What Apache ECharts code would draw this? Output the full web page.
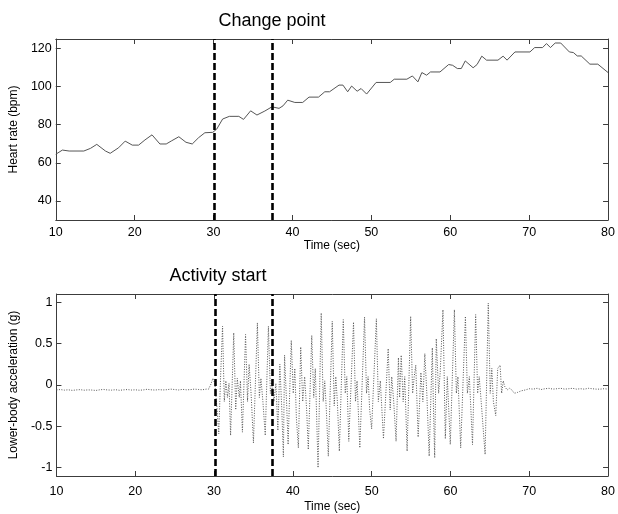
<!DOCTYPE html>
<html>
<head>
<meta charset="utf-8">
<script src="https://cdn.jsdelivr.net/npm/echarts@6/dist/echarts.min.js"></script>
<style>html,body{margin:0;padding:0;background:#fff;}#chart{width:618px;height:514px;}</style>
</head>
<body>
<div id="chart"></div>
<script>
// ---- Data ----
const timeTicks = [10, 20, 30, 40, 50, 60, 70, 80];
const hrTicks = [40, 60, 80, 100, 120];
const accTicks = [-1, -0.5, 0, 0.5, 1];
const changePoints = [30.15, 37.45];

const hrTime = [
  10.0, 10.84, 11.7, 13.56, 14.4, 15.2, 16.3, 16.9, 17.96, 18.8,
  19.7, 20.5, 21.3, 22.2, 23.2, 24.0, 24.7, 25.6, 26.5, 27.3,
  28.1, 28.9, 29.9, 30.4, 31.15, 32.0, 33.2, 33.8, 34.7, 35.5,
  36.5, 37.4, 38.3, 38.8, 39.4, 40.3, 41.3, 42.1, 43.3, 44.1,
  44.7, 45.9, 46.4, 47.0, 47.5, 48.2, 48.7, 49.4, 50.6, 52.4,
  52.9, 54.5, 55.2, 55.9, 56.4, 57.0, 57.5, 58.7, 59.8, 60.3,
  60.9, 61.4, 61.9, 62.9, 63.4, 64.0, 64.6, 66.05, 66.7, 67.2,
  68.2, 70.1, 70.7, 71.7, 72.2, 72.7, 73.3, 74.0, 75.1, 75.6,
  76.1, 76.6, 77.7, 78.7, 80.0
];
const hrValue = [
  64.5, 66.7, 66.2, 66.2, 67.6, 69.7, 66.2, 65.0, 67.9, 71.4,
  69.3, 69.3, 72.0, 74.7, 69.9, 69.9, 71.6, 73.7, 70.8, 69.9,
  73.2, 75.8, 76.0, 77.7, 83.0, 84.4, 84.4, 82.8, 87.3, 85.1,
  87.2, 89.4, 88.6, 89.9, 92.9, 91.7, 91.7, 94.5, 94.5, 97.3,
  97.3, 100.8, 100.8, 97.3, 100.3, 97.6, 99.0, 96.1, 102.2, 102.2,
  103.9, 103.9, 105.6, 102.5, 107.4, 106.0, 107.7, 107.7, 111.6, 111.2,
  109.5, 109.5, 113.5, 109.9, 111.6, 116.0, 113.9, 113.9, 116.0, 113.9,
  118.2, 118.2, 120.5, 120.5, 122.6, 120.5, 122.9, 122.9, 118.2, 117.9,
  116.1, 116.1, 111.8, 111.8, 107.4
];

const accRestTime = [
  10, 10.5, 11, 11.5, 12, 12.5, 13, 13.5, 14, 14.5,
  15, 15.5, 16, 16.5, 17, 17.5, 18, 18.5, 19, 19.5,
  20, 20.5, 21, 21.5, 22, 22.5, 23, 23.5, 24, 24.5,
  25, 25.5, 26, 26.5, 27, 27.5, 28, 28.5, 29
];
const accRestValue = [
  -0.060, -0.055, -0.062, -0.058, -0.065, -0.060, -0.056, -0.063, -0.059, -0.061,
  -0.066, -0.058, -0.054, -0.060, -0.062, -0.057, -0.064, -0.059, -0.055, -0.061,
  -0.058, -0.063, -0.060, -0.052, -0.058, -0.061, -0.056, -0.060, -0.057, -0.050,
  -0.055, -0.060, -0.053, -0.058, -0.056, -0.050, -0.054, -0.058, -0.050
];
const accActiveTime = [
  29.3, 29.6, 29.85, 30.1, 30.35, 30.6, 30.85, 31.08, 31.3, 31.5,
  31.7, 31.9, 32.1, 32.5, 32.75, 32.95, 33.2, 33.35, 33.6, 34.0,
  34.25, 34.45, 34.7, 35.0, 35.5, 35.75, 35.95, 36.2, 36.5, 36.9,
  37.15, 37.35, 37.6, 37.85, 38.1, 38.35, 38.6, 38.8, 38.95, 39.2,
  39.4, 39.8, 40.05, 40.25, 40.45, 40.7, 41.0, 41.25, 41.5, 41.75,
  41.96, 42.4, 42.65, 42.85, 43.2, 43.6, 43.85, 44.05, 44.25, 44.5,
  45.0, 45.25, 45.45, 45.65, 45.9, 46.4, 46.65, 46.85, 47.1, 47.7,
  47.95, 48.15, 48.5, 49.1, 49.35, 49.55, 49.75, 50.0, 50.6, 50.85,
  51.1, 51.5, 52.1, 52.35, 52.55, 52.8, 53.1, 53.4, 53.55, 53.75,
  54.0, 54.2, 54.5, 54.95, 55.2, 55.4, 55.6, 55.9, 56.25, 56.5,
  56.75, 57.0, 57.3, 57.7, 57.85, 58.0, 58.2, 58.5, 58.7, 59.05,
  59.35, 59.6, 59.98, 60.5, 60.75, 60.95, 61.3, 61.9, 62.15, 62.4,
  62.8, 63.2, 63.45, 63.65, 63.9, 64.4, 64.8, 65.05, 65.25, 65.45,
  65.75, 66.0, 66.3, 66.5, 66.7, 66.9, 67.2, 67.5, 67.8, 68.1
];
const accActiveValue = [
  -0.05, 0.01, 0.08, 0.02, -0.25, -0.59, 0.15, 0.71, -0.2, 0.05,
  -0.15, 0.02, -0.61, 0.63, -0.3, 0.08, -0.15, 0.05, -0.57, 0.61,
  -0.2, 0.25, -0.1, -0.70, 0.75, -0.15, 0.08, -0.2, -0.61, 0.71,
  -0.1, 0.05, -0.2, 0.02, -0.55, 0.25, -0.3, -0.87, 0.36, -0.2,
  -0.72, 0.54, -0.1, 0.2, -0.4, -0.76, 0.46, -0.2, 0.1, -0.3,
  -0.78, 0.60, -0.15, 0.2, -1.0, 0.87, -0.2, 0.05, -0.3, -0.86,
  0.77, -0.25, 0.1, -0.2, -0.80, 0.79, -0.1, 0.1, -0.68, 0.76,
  -0.2, 0.05, -0.76, 0.82, -0.1, 0.1, -0.3, -0.53, 0.80, -0.2,
  0.05, -0.65, 0.44, -0.3, 0.1, -0.2, -0.68, 0.33, -0.15, 0.36,
  -0.2, 0.1, -0.80, 0.83, -0.1, 0.1, 0.24, -0.63, 0.15, -0.2,
  0.38, -0.1, -0.86, 0.45, -0.3, -0.88, 0.56, -0.1, 0.15, 0.91,
  -0.65, 0.1, -0.72, 0.91, -0.1, 0.1, -0.76, 0.83, -0.1, 0.1,
  -0.72, 0.85, -0.1, 0.1, -0.2, -0.84, 0.99, -0.1, 0.2, -0.2,
  -0.37, 0.2, 0.24, -0.1, 0.05, -0.02, -0.06, -0.04, -0.06, -0.1
];
const accRecoveryTime = [
  68.5, 69, 69.5, 70, 70.5, 71, 71.5, 72, 72.5, 73,
  73.5, 74, 74.5, 75, 75.5, 76, 76.5, 77, 77.5, 78,
  78.5, 79, 79.5, 80
];
const accRecoveryValue = [
  -0.09, -0.07, -0.06, -0.045, -0.05, -0.04, -0.055, -0.045, -0.04, -0.05,
  -0.045, -0.04, -0.05, -0.045, -0.04, -0.05, -0.045, -0.05, -0.04, -0.045,
  -0.05, -0.05, -0.045, -0.05
];

// ---- Build chart ----
const FONT = 'Liberation Sans, Arial, Helvetica, sans-serif';
const AXIS_COLOR = '#3c3c3c';
const zip = (a, b) => a.map((t, i) => [t, b[i]]);
const hrData = zip(hrTime, hrValue);
const accData = zip(accRestTime, accRestValue)
  .concat(zip(accActiveTime, accActiveValue))
  .concat(zip(accRecoveryTime, accRecoveryValue));

function xAxisDef(grid, pos, showLabel, labelMargin, nameGap) {
  return {
    type: 'value', gridIndex: grid, position: pos,
    min: timeTicks[0], max: timeTicks[timeTicks.length - 1], interval: 10,
    axisLine: { show: true, onZero: false, lineStyle: { color: AXIS_COLOR, width: 1 } },
    axisTick: { show: true, inside: true, length: 5, lineStyle: { color: AXIS_COLOR } },
    axisLabel: { show: showLabel, margin: labelMargin, fontSize: 12.5, color: '#000', fontFamily: FONT },
    splitLine: { show: false },
    name: showLabel ? 'Time (sec)' : '',
    nameLocation: 'middle', nameGap: nameGap,
    nameTextStyle: { fontSize: 12, color: '#000', fontFamily: FONT }
  };
}
function yAxisDef(grid, pos, showLabel, min, max, ticks, name) {
  return {
    type: 'value', gridIndex: grid, position: pos, min: min, max: max,
    axisLine: { show: true, onZero: false, lineStyle: { color: AXIS_COLOR, width: 1 } },
    axisTick: { show: true, inside: true, length: 5, customValues: ticks, lineStyle: { color: AXIS_COLOR } },
    axisLabel: { show: showLabel, customValues: ticks, margin: 4, fontSize: 12.5, color: '#000', fontFamily: FONT },
    splitLine: { show: false },
    name: showLabel ? name : '',
    nameLocation: 'middle', nameRotate: 90, nameGap: 27,
    nameTextStyle: { fontSize: 12, color: '#000', fontFamily: FONT }
  };
}

const markLines = {
  silent: true, symbol: ['none', 'none'], animation: false,
  label: { show: false },
  lineStyle: { color: '#000', width: 2.6, type: [7, 3] },
  data: changePoints.map(v => ({ xAxis: v }))
};

const chart = echarts.init(document.getElementById('chart'), null, { renderer: 'canvas' });
chart.setOption({
  animation: false,
  backgroundColor: '#fff',
  title: [
    { text: 'Change point', left: 272, top: 12, textAlign: 'center', padding: 0,
      textStyle: { fontSize: 18, fontWeight: 'normal', color: '#000', fontFamily: FONT } },
    { text: 'Activity start', left: 218, top: 267, textAlign: 'center', padding: 0,
      textStyle: { fontSize: 18, fontWeight: 'normal', color: '#000', fontFamily: FONT } }
  ],
  grid: [
    { left: 54, top: 39, width: 557, height: 181, containLabel: false },
    { left: 54, top: 294, width: 557, height: 182, containLabel: false }
  ],
  xAxis: [
    xAxisDef(0, 'bottom', true, 6, 20),
    xAxisDef(0, 'top', false, 4, 0),
    xAxisDef(1, 'bottom', true, 9, 25),
    xAxisDef(1, 'top', false, 4, 0)
  ],
  yAxis: [
    yAxisDef(0, 'left', true, 30, 125, hrTicks, 'Heart rate (bpm)'),
    yAxisDef(0, 'right', false, 30, 125, hrTicks, ''),
    yAxisDef(1, 'left', true, -1.1, 1.1, accTicks, 'Lower-body acceleration (g)'),
    yAxisDef(1, 'right', false, -1.1, 1.1, accTicks, '')
  ],
  series: [
    { type: 'line', xAxisIndex: 0, yAxisIndex: 0, data: hrData, showSymbol: false,
      lineStyle: { color: '#555', width: 1 }, markLine: markLines },
    { type: 'line', xAxisIndex: 2, yAxisIndex: 2, data: accData, showSymbol: false,
      lineStyle: { color: '#555', width: 1, type: [1, 1.5] }, markLine: markLines }
  ]
});
</script>
</body>
</html>
